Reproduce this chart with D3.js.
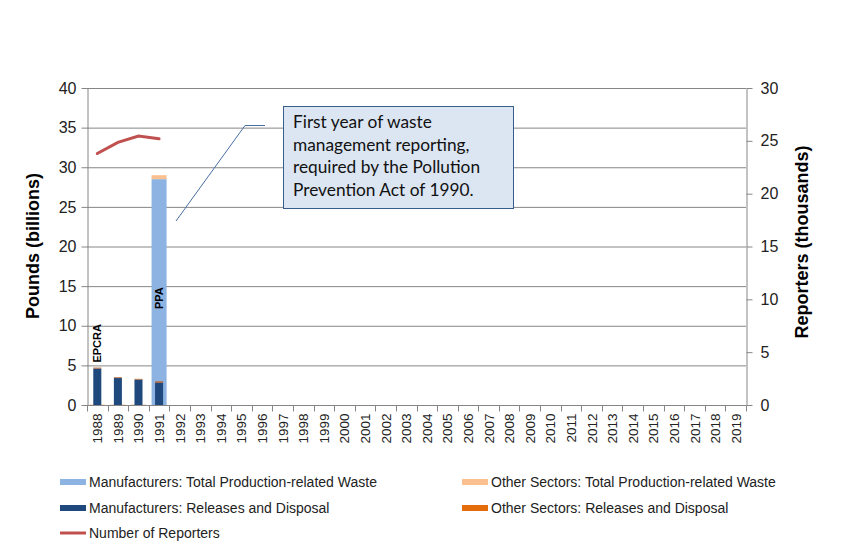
<!DOCTYPE html>
<html><head><meta charset="utf-8">
<script src="https://cdn.jsdelivr.net/npm/d3@7"></script>
<style>body{margin:0;background:#fff}svg{display:block}</style>
</head><body>
<script>
const years = d3.range(1988, 2020).map(String);
const mfgWaste   = [0, 0, 0, 28.5];
const otherWaste = [0.06, 0.06, 0.06, 0.5];
const mfgRel     = [4.6, 3.4, 3.2, 2.8];
const otherRel   = [0.12, 0.1, 0.1, 0.18];
const reporters  = [23.8, 24.85, 25.45, 25.2];
const leftTicks = [0,5,10,15,20,25,30,35,40];
const rightTicks = [0,5,10,15,20,25,30];
const legendItems = [
  {label:"Manufacturers: Total Production-related Waste", color:"#8db3e2", type:"bar"},
  {label:"Other Sectors: Total Production-related Waste", color:"#fac090", type:"bar"},
  {label:"Manufacturers: Releases and Disposal", color:"#1f497d", type:"bar"},
  {label:"Other Sectors: Releases and Disposal", color:"#e46c0a", type:"bar"},
  {label:"Number of Reporters", color:"#c0504d", type:"line"}
];
const noteLines = ["First year of waste","management reporting,","required by the Pollution","Prevention Act of 1990."];

const W=843,H=557;
const m={l:87,r:97,t:88,b:152};
const svg=d3.select("body").append("svg").attr("width",W).attr("height",H);
const x=d3.scaleBand().domain(years).range([m.l,W-m.r]);
const yL=d3.scaleLinear().domain([0,40]).range([H-m.b,m.t]);
const yR=d3.scaleLinear().domain([0,30]).range([H-m.b,m.t]);
const bw=x.bandwidth();
const grid="#868686";

// gridlines
svg.append("g").selectAll("line").data(leftTicks.slice(1)).join("line")
  .attr("x1",m.l).attr("x2",W-m.r).attr("y1",d=>yL(d)+0.5).attr("y2",d=>yL(d)+0.5)
  .attr("stroke",grid).attr("stroke-width",1);

// waste bars (wide)
const wW=bw*0.73, rW=bw*0.39;
const g=svg.append("g");
mfgWaste.forEach((v,i)=>{
  const cx=x(years[i])+bw/2;
  const o=otherWaste[i];
  if(v>0) g.append("rect").attr("x",cx-wW/2).attr("width",wW).attr("y",yL(v)).attr("height",yL(0)-yL(v)).attr("fill","#8db3e2");
  if(o>0) g.append("rect").attr("x",cx-wW/2).attr("width",wW).attr("y",yL(v+o)).attr("height",yL(v)-yL(v+o)).attr("fill","#fac090");
});
mfgRel.forEach((v,i)=>{
  const cx=x(years[i])+bw/2;
  const o=otherRel[i];
  g.append("rect").attr("x",cx-rW/2).attr("width",rW).attr("y",yL(v)).attr("height",yL(0)-yL(v)).attr("fill","#1f497d");
  g.append("rect").attr("x",cx-rW/2).attr("width",rW).attr("y",yL(v+o)).attr("height",yL(v)-yL(v+o)).attr("fill","#b8622a");
});

// reporters line
svg.append("path").datum(reporters)
  .attr("d",d3.line().x((d,i)=>x(years[i])+bw/2).y(d=>yR(d)))
  .attr("fill","none").attr("stroke","#c0504d").attr("stroke-width",3).attr("stroke-linecap","round");

// axes
const font="'Liberation Sans', Arial, sans-serif";
const aL=svg.append("g").attr("transform",`translate(${m.l+0.5},0)`)
  .call(d3.axisLeft(yL).tickValues(leftTicks).tickSize(6).tickSizeOuter(0).tickPadding(5));
const aR=svg.append("g").attr("transform",`translate(${W-m.r+0.5},0)`)
  .call(d3.axisRight(yR).tickValues(rightTicks).tickSize(6).tickSizeOuter(0).tickPadding(8));
[aL,aR].forEach(a=>{
  a.selectAll("path,line").attr("stroke",grid);
  a.selectAll("text").attr("font-family",font).attr("font-size",16).attr("fill","#222");
});
// x axis
const xa=svg.append("g").attr("transform",`translate(0,${H-m.b+0.5})`);
xa.append("line").attr("x1",m.l).attr("x2",W-m.r).attr("stroke",grid);
xa.selectAll("line.t").data(d3.range(years.length+1)).join("line").attr("class","t")
  .attr("x1",i=>Math.round(m.l+i*bw)+0.5).attr("x2",i=>Math.round(m.l+i*bw)+0.5).attr("y1",0).attr("y2",6).attr("stroke",grid);
xa.selectAll("text").data(years).join("text")
  .attr("transform",d=>`translate(${x(d)+bw/2+5},8) rotate(-90)`)
  .attr("text-anchor","end").attr("font-family",font).attr("font-size",13.5).attr("fill","#222").text(d=>d);

// axis titles
svg.append("text").attr("transform",`translate(39,${246}) rotate(-90)`).attr("text-anchor","middle")
  .attr("font-family",font).attr("font-weight","bold").attr("font-size",18).text("Pounds (billions)");
svg.append("text").attr("transform",`translate(808,${242}) rotate(-90)`).attr("text-anchor","middle")
  .attr("font-family",font).attr("font-weight","bold").attr("font-size",18).text("Reporters (thousands)");

// bar labels
svg.append("text").attr("transform",`translate(${x("1988")+bw/2+4},${yL(mfgRel[0]+otherRel[0])-5}) rotate(-90)`)
  .attr("font-family",font).attr("font-weight","bold").attr("font-size",11).text("EPCRA");
svg.append("text").attr("transform",`translate(${x("1991")+bw/2+4},${yL(12.1)}) rotate(-90)`)
  .attr("font-family",font).attr("font-weight","bold").attr("font-size",11).text("PPA");

// callout
svg.append("path").attr("d",`M176,221 L245,125.5 L265,125.5`).attr("fill","none").attr("stroke","#4a6fa5").attr("stroke-width",1);
svg.append("rect").attr("x",283.5).attr("y",106.5).attr("width",230).attr("height",102)
  .attr("fill","#dce6f2").attr("stroke","#385d8a").attr("stroke-width",1);
svg.append("g").selectAll("text").data(noteLines).join("text")
  .attr("x",293).attr("y",(d,i)=>128+i*22.7).attr("font-family","Lato, 'Open Sans', sans-serif").attr("font-size",17.3).attr("fill","#111").text(d=>d);

// legend
const pos=[[60,482],[462,482],[60,508],[462,508],[60,533]];
const lg=svg.append("g");
legendItems.forEach((it,i)=>{
  const [lx,ly]=pos[i];
  if(it.type==="bar") lg.append("rect").attr("x",lx).attr("y",ly-3).attr("width",26).attr("height",6).attr("fill",it.color);
  else lg.append("line").attr("x1",lx).attr("x2",lx+26).attr("y1",ly).attr("y2",ly).attr("stroke",it.color).attr("stroke-width",3);
  lg.append("text").attr("x",lx+29).attr("y",ly+5).attr("font-family",font).attr("font-size",14).attr("fill","#222").text(it.label);
});
</script>
</body></html>
